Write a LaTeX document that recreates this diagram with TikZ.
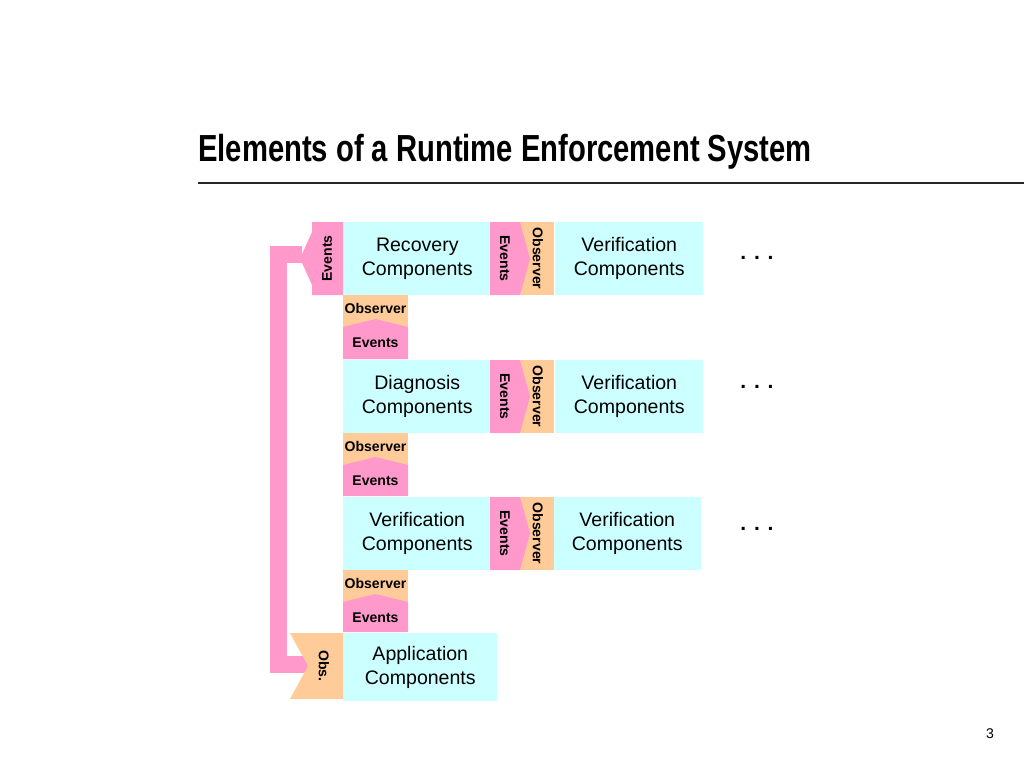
\documentclass[tikz,border=0pt]{standalone}
\usepackage{fontspec}
\setmainfont{Liberation Sans}
\usetikzlibrary{positioning}
\definecolor{compcyan}{HTML}{CCFFFF}
\definecolor{evpink}{HTML}{FF99CC}
\definecolor{obsorange}{HTML}{FFCC99}
\def\px{0.025cm}

\begin{document}
\begin{tikzpicture}[x=\px,y=-\px,
    comp/.style={fill=compcyan,anchor=north west,inner sep=0pt,align=center,
        minimum width=148*\px,minimum height=73*\px,font=\fontsize{13.9}{17}\selectfont},
    tablabel/.style={inner sep=0pt,font=\fontsize{10}{12}\selectfont\bfseries},
    dots/.style={anchor=base,inner sep=0pt,font=\fontsize{15}{17}\selectfont\bfseries},
    evbar/.style={draw=evpink,line width=17*\px,line join=miter}]
    \useasboundingbox (0,0) rectangle (1024,768);

    % Title and rule
        \node[anchor=base west,inner sep=0pt] (title) at (198,162)
            {\scalebox{0.775}[1]{\fontsize{26.8}{30}\selectfont\bfseries Elements of a Runtime Enforcement System}};
        \draw[line width=1.3*\px,black!85] (198,183) -- (1024,183);

    % Feedback bar from the top events to the application observer
        \coordinate (evtip) at (302,254.5);
        \coordinate (obsnotch) at (308,664.5);
        \draw[evbar] (evtip) -- (278.5,254.5) |- (obsnotch);

    % Component boxes
        \node[comp] (rec) at (343,222) {Recovery\\Components};
        \node[comp] (ver1) at (555,222) {Verification\\Components};
        \node[comp] (diag) at (343,360) {Diagnosis\\Components};
        \node[comp] (ver2) at (555,360) {Verification\\Components};
        \node[comp] (ver3) at (343,497) {Verification\\Components};
        \node[comp] (ver4) at (553,497) {Verification\\Components};
        \node[comp,minimum width=154*\px,minimum height=68*\px] (app) at (343,633) {Application\\Components};

    % Events / Observer between the columns
        \foreach \t/\n in {222/1,360/2,497/3}{
            \fill[obsorange] (520,\t) rectangle (554,\t+73);
            \fill[evpink] (490,\t) -- (520,\t) -- (530,\t+36.5) -- (520,\t+73) -- (490,\t+73) -- cycle;
            \node[tablabel,rotate=-90] (ev\n) at (505,\t+36.5) {Events};
            \node[tablabel,rotate=-90] (ob\n) at (538,\t+36.5) {Observer};
        }

    % Observer / Events between the rows
        \foreach \b/\t/\n in {295/360/1,433/497/2,570/633/3}{
            \fill[obsorange] (343,\b) rectangle (408,\b+34);
            \fill[evpink] (343,\t-1) -- (343,\b+32) -- (375.5,\b+24) -- (408,\b+32) -- (408,\t-1) -- cycle;
            \node[tablabel] (vob\n) at (375.5,\b+13) {Observer};
            \node[tablabel] (vev\n) at (375.5,\b+48) {Events};
        }

    % Outgoing events tab and application observer
        \fill[evpink] (343,222) -- (312,222) -- (312,232) -- (300,258.5) -- (312,285) -- (312,295) -- (343,295) -- cycle;
        \node[tablabel,rotate=90] (evtop) at (327,258.5) {Events};
        \fill[obsorange] (290,633) -- (343,633) -- (343,699) -- (290,699) -- (308,666) -- cycle;
        \node[tablabel,rotate=-90] (obsapp) at (324,666) {Obs.};

    % More components to the right
        \node[dots] (more1) at (757,259) {. . .};
        \node[dots] (more2) at (757,388) {. . .};
        \node[dots] (more3) at (757,530) {. . .};

        \node[font=\fontsize{10}{12}\selectfont] (page) at (990,734) {3};
    \end{tikzpicture}
\end{document}
